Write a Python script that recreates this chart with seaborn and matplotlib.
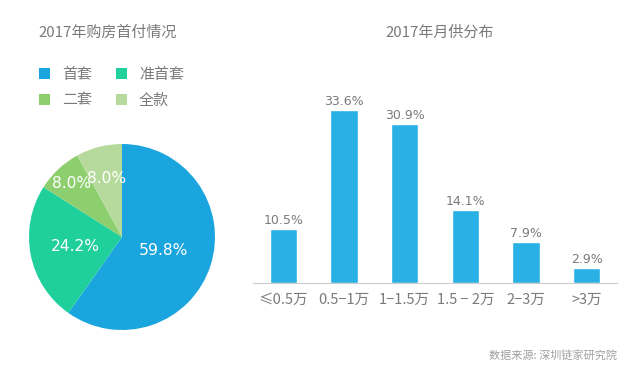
import numpy as np
import seaborn as sns
import matplotlib.pyplot as plt
import pandas as pd

sns.set_style("white")
plt.rcParams['font.family'] = ['Noto Sans CJK SC', 'DejaVu Sans']

# pie data
pie_labels = ["首套", "准首套", "二套", "全款"]
pie_values = [59.8, 24.2, 8.0, 8.0]
pie_colors = ["#1aa5de", "#1fd09d", "#8dcf6f", "#b6da9c"]

# bar data
bar_cats = ["≤0.5万", "0.5−1万", "1−1.5万", "1.5 − 2万", "2−3万", ">3万"]
bar_values = [10.5, 33.6, 30.9, 14.1, 7.9, 2.9]

gray = "#7a7a7a"

fig = plt.figure(figsize=(6.33, 3.72), dpi=100)

# ---- pie ----
ax1 = fig.add_axes([29/633, 42/372, 186/633, 186/372])
wedges, texts, autotexts = ax1.pie(pie_values, colors=pie_colors, startangle=90,
                                   counterclock=False, autopct="%.1f%%",
                                   wedgeprops=dict(linewidth=0),
                                   textprops=dict(color="white", fontsize=11.2,
                                                  family="DejaVu Sans"))
radii = [0.47, 0.51, 0.79, 0.65]
for w, t, r in zip(wedges, autotexts, radii):
    ang = np.deg2rad((w.theta1 + w.theta2) / 2)
    t.set_position((r * np.cos(ang), r * np.sin(ang)))
ax1.set_xlim(-1, 1)
ax1.set_ylim(-1, 1)
ax1.set_aspect("equal")

fig.text(38/633, 1 - 33/372, "2017年购房首付情况", color=gray, fontsize=10.8,
         va="center", ha="left")
# legend filled row by row
order = [0, 2, 1, 3]
fig.legend([wedges[i] for i in order], [pie_labels[i] for i in order], ncol=2,
           loc="upper left", bbox_to_anchor=(25/633, 1 - 54/372), frameon=False,
           handlelength=0.75, handleheight=0.75, handletextpad=0.8,
           columnspacing=1.6, labelspacing=0.8, fontsize=10.8, labelcolor=gray)

# ---- bars ----
ax2 = fig.add_axes([253/633, 89/372, 364/633, 200/372])
df = pd.DataFrame({"cat": bar_cats, "val": bar_values})
sns.barplot(data=df, x="cat", y="val", color="#29b1e6", saturation=1,
            width=0.45, ax=ax2)
for i, v in enumerate(bar_values):
    ax2.text(i, v + 0.4, f"{v:.1f}%", ha="center", va="bottom", color=gray,
             fontsize=9, family="DejaVu Sans")
ax2.set_xlim(-0.5, 5.5)
ax2.set_ylim(0, 200/5.15)
ax2.set_xlabel("")
ax2.set_ylabel("")
ax2.set_yticks([])
sns.despine(ax=ax2, left=True)
ax2.spines["bottom"].set_color("#cccccc")
ax2.tick_params(axis="x", length=0, labelsize=10.5, labelcolor=gray, pad=7)

fig.text(440/633, 1 - 33/372, "2017年月供分布", color=gray, fontsize=10.8,
         va="center", ha="center")
fig.text(617/633, 1 - 355/372, "数据来源: 深圳链家研究院", color="#a0a0a0",
         fontsize=8, va="center", ha="right")

fig.savefig("out.png", dpi=100)
